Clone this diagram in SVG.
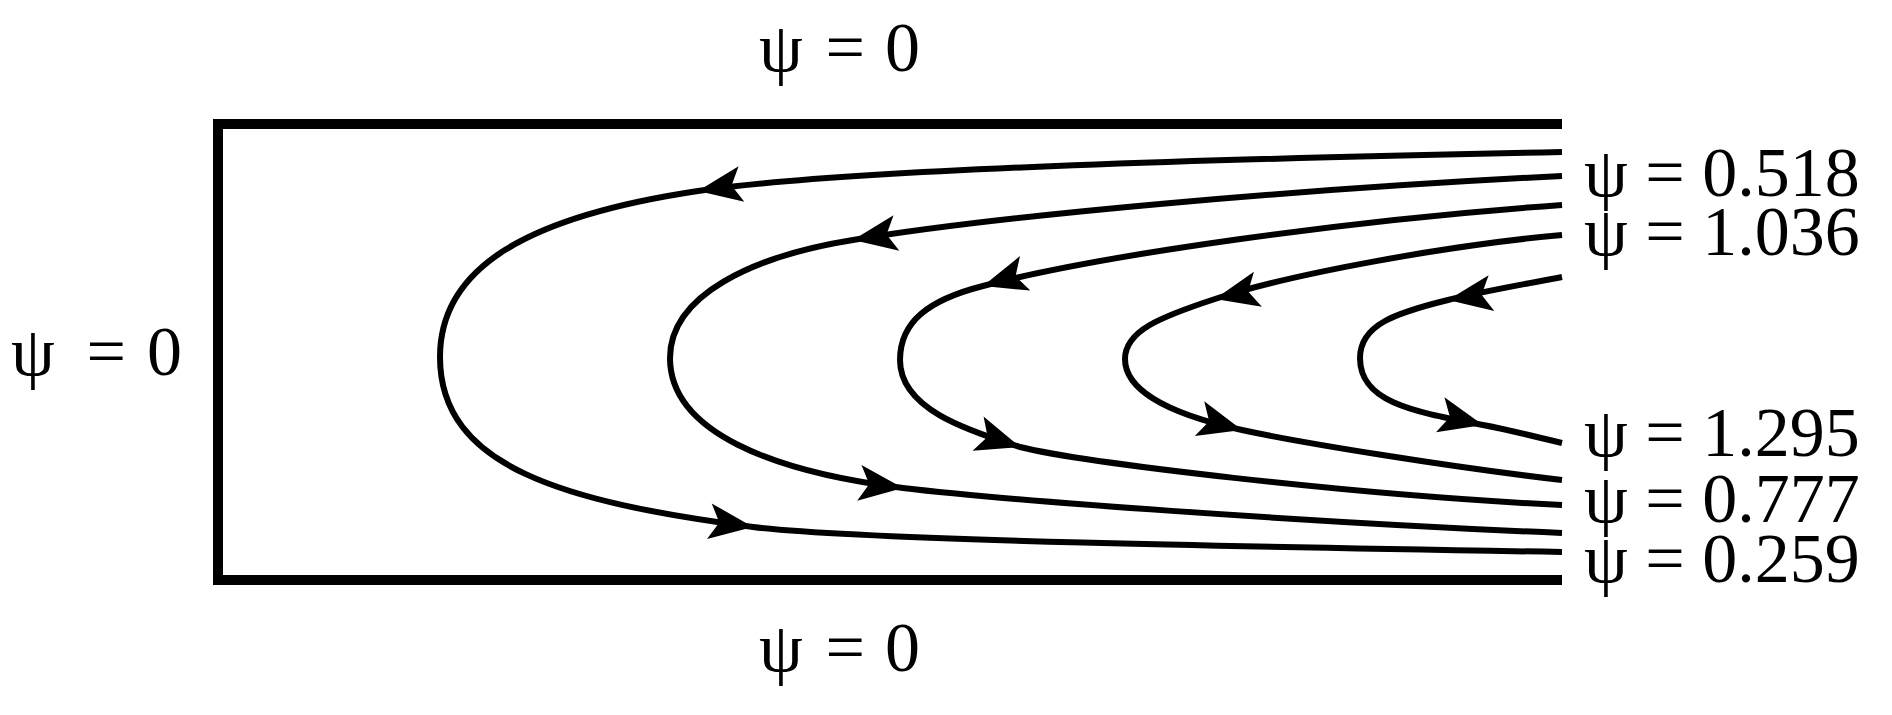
<svg xmlns="http://www.w3.org/2000/svg" width="1892" height="715" viewBox="0 0 1892 715">
<style>
.wall{fill:none;stroke:#000;stroke-width:10;stroke-linejoin:miter;stroke-linecap:butt}
.sl{fill:none;stroke:#000;stroke-width:6}
.lbl{font-family:"Liberation Serif","Times New Roman",serif;font-size:70px;fill:#000}
</style>
<defs>
<path id="arr" d="M0,0 L-44,-18 L-34,0 L-44,18 Z" fill="#000"/>
</defs>
<rect width="1892" height="715" fill="#fff"/>
<g id="walls">
<path class="wall" d="M1562,124 H218 V580 H1562"/>
</g>
<g id="connectors">
<path class="sl" d="M1562,152 C1262,158 848,168.5 698,191 C528,216.5 440,267 440,357 C440,467 563,502 753,527 C853,540 1262,547 1562,552"/>
<path class="sl" d="M1562,176 C1300,189 1003,215 853,240 C753,256 670,295 670,358 C670,432 773,472 903,488 C1003,500 1300,522 1562,533"/>
<path class="sl" d="M1562,205 C1350,220 1100,255 983,286 C928,300 900,322 900,360 C900,408 965,430 1020,447 C1080,462 1350,495 1562,505"/>
<path class="sl" d="M1562,235 C1450,245 1290,274 1215,299 C1160,317 1125,331 1125,359 C1125,387 1160,412 1242,430 C1302,443 1450,467 1562,480"/>
<path class="sl" d="M1562,277 C1520,285 1480,292 1448,300 C1395,313 1360,325 1360,358 C1360,403 1415,412 1483,425 C1510,430 1540,438 1562,443"/>
<use href="#arr" transform="translate(698,191) rotate(170.9)"/>
<use href="#arr" transform="translate(753,527) rotate(7.5)"/>
<use href="#arr" transform="translate(853,240) rotate(170.7)"/>
<use href="#arr" transform="translate(903,488) rotate(6.8)"/>
<use href="#arr" transform="translate(983,286) rotate(163.3)"/>
<use href="#arr" transform="translate(1020,447) rotate(17.7)"/>
<use href="#arr" transform="translate(1215,299) rotate(167.2)"/>
<use href="#arr" transform="translate(1242,430) rotate(15.1)"/>
<use href="#arr" transform="translate(1448,300) rotate(171)"/>
<use href="#arr" transform="translate(1483,425) rotate(13.5)"/>
</g>
<g id="labels">
<text class="lbl" y="71"><tspan x="759">ψ</tspan><tspan x="825.5">=</tspan><tspan x="885">0</tspan></text>
<text class="lbl" y="671"><tspan x="759">ψ</tspan><tspan x="825.5">=</tspan><tspan x="885">0</tspan></text>
<text class="lbl" y="375"><tspan x="11">ψ</tspan><tspan x="86.5">=</tspan><tspan x="147">0</tspan></text>
<text class="lbl" x="1584" y="196">ψ = 0.518</text>
<text class="lbl" x="1584" y="255">ψ = 1.036</text>
<text class="lbl" x="1584" y="456">ψ = 1.295</text>
<text class="lbl" x="1584" y="522">ψ = 0.777</text>
<text class="lbl" x="1584" y="582">ψ = 0.259</text>
</g>
</svg>
